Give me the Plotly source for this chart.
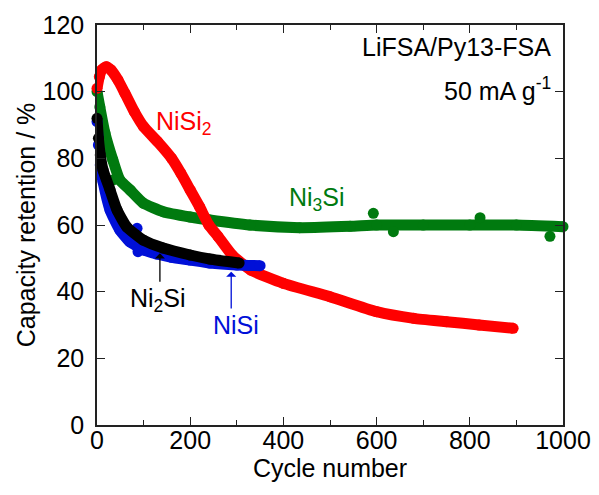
import plotly.graph_objects as go

# ---- data ----
nisi2_cycle = [0, 5, 10, 20, 30, 45, 60, 80, 100, 130, 160, 180, 200, 220, 240, 260, 290, 330, 400, 500, 600, 680, 750, 820, 893]
nisi2_ret = [101, 104.5, 106.5, 107.5, 106.5, 103.5, 99.5, 94, 89.5, 85, 80, 75.5, 70.5, 65.5, 60, 56.5, 51, 46.5, 42.5, 38.5, 34, 32, 31, 30, 29]

ni3si_cycle = [0, 6, 17, 34, 49, 71, 99, 142, 200, 242, 328, 435, 543, 600, 700, 800, 900, 1000]
ni3si_ret = [100, 95.4, 87.6, 79.5, 73.5, 70.5, 66.6, 64, 62.4, 61.5, 60, 59.2, 59.6, 60, 60, 60, 60, 59.5]
ni3si_out_cycle = [34, 593, 636, 822, 972]
ni3si_out_ret = [73.5, 63.5, 58, 62.2, 56.6]

nisi_cycle = [0, 3, 7, 13, 28, 49, 70, 100, 128, 160, 200, 242, 300, 350]
nisi_ret = [91, 84, 78, 73, 64.5, 58.5, 55, 52.5, 51.3, 50.3, 49.5, 48.6, 48, 47.8]
nisi_out_cycle = [86, 88]
nisi_out_ret = [59, 52]

ni2si_cycle = [0, 3, 7, 13, 28, 43, 64, 99, 142, 200, 242, 305]
ni2si_ret = [92, 86, 81, 76.5, 70.5, 64.5, 59.4, 55.5, 53.1, 51, 49.8, 48.6]

x_ticks = [0, 200, 400, 600, 800, 1000]
y_ticks = [0, 20, 40, 60, 80, 100, 120]

RED = "#ff0000"
GREEN = "#007a0f"
BLUE = "#0010d8"
BLACK = "#000000"
FONT = "Liberation Sans, Arial, sans-serif"

fig = go.Figure()


def add_series(xs, ys, color):
    fig.add_trace(go.Scatter(
        x=xs, y=ys, mode="lines+markers",
        line=dict(color=color, width=11, shape="spline", smoothing=0.5),
        marker=dict(color=color, size=11),
        cliponaxis=False, showlegend=False, hoverinfo="skip"))


def add_points(xs, ys, color):
    fig.add_trace(go.Scatter(
        x=xs, y=ys, mode="markers",
        marker=dict(color=color, size=11),
        cliponaxis=False, showlegend=False, hoverinfo="skip"))


add_series(ni3si_cycle, ni3si_ret, GREEN)
add_points(ni3si_out_cycle, ni3si_out_ret, GREEN)
add_series(nisi2_cycle, nisi2_ret, RED)
add_series(nisi_cycle, nisi_ret, BLUE)
add_points(nisi_out_cycle, nisi_out_ret, BLUE)
add_series(ni2si_cycle, ni2si_ret, BLACK)

axis_common = dict(
    showline=True, linecolor="#222222", linewidth=1.5, mirror="ticks",
    ticks="inside", ticklen=8, tickwidth=1.2, tickcolor="#222222",
    showgrid=False, zeroline=False, automargin=False,
    tickfont=dict(family=FONT, size=25, color="black"),
)

fig.update_xaxes(
    range=[0, 1000], tickvals=x_ticks, ticktext=[str(v) for v in x_ticks],
    minor=dict(dtick=100, ticks="inside", ticklen=5, tickwidth=1.2, tickcolor="#222222"),
    title=dict(text="Cycle number", font=dict(family=FONT, size=25, color="black"), standoff=0),
    ticklabelstandoff=-8,
    **axis_common)
fig.update_yaxes(
    range=[0, 120], tickvals=y_ticks, ticktext=[str(v) for v in y_ticks],
    title=dict(text="Capacity retention / %", font=dict(family=FONT, size=25, color="black"), standoff=0),
    ticklabelstandoff=6,
    **axis_common)

txt = dict(family=FONT, size=25)
annotations = [
    dict(x=0.978, y=0.985, xref="paper", yref="paper", text="LiFSA/Py13-FSA",
         showarrow=False, xanchor="right", yanchor="top", font=dict(**txt, color="black")),
    dict(x=0.978, y=0.885, xref="paper", yref="paper", text="50 mA g<sup>-1</sup>",
         showarrow=False, xanchor="right", yanchor="top", font=dict(**txt, color="black")),
    dict(x=122, y=90.6, text="NiSi<sub>2</sub>", showarrow=False, xanchor="left",
         font=dict(**txt, color=RED)),
    dict(x=408, y=67.8, text="Ni<sub>3</sub>Si", showarrow=False, xanchor="left",
         font=dict(**txt, color=GREEN)),
    dict(x=67, y=37.5, text="Ni<sub>2</sub>Si", showarrow=False, xanchor="left",
         font=dict(**txt, color=BLACK)),
    dict(x=245, y=30.0, text="NiSi", showarrow=False, xanchor="left",
         font=dict(**txt, color=BLUE)),
    dict(x=135, y=51.5, ax=135, ay=42.5, xref="x", yref="y", axref="x", ayref="y",
         text="", showarrow=True, arrowhead=1, arrowsize=1.3, arrowwidth=1.3, arrowcolor=BLACK),
    dict(x=288, y=46.0, ax=288, ay=34.5, xref="x", yref="y", axref="x", ayref="y",
         text="", showarrow=True, arrowhead=1, arrowsize=1.3, arrowwidth=1.3, arrowcolor=BLUE),
]

# the page body adds an 8 px margin, so the figure is sized and offset to compensate
fig.update_layout(
    width=583, height=479,
    margin=dict(l=89, r=28, t=17, b=62),
    paper_bgcolor="white", plot_bgcolor="white",
    font=dict(family=FONT, color="black"),
    annotations=annotations,
    showlegend=False,
)

fig.write_html("out.html")
